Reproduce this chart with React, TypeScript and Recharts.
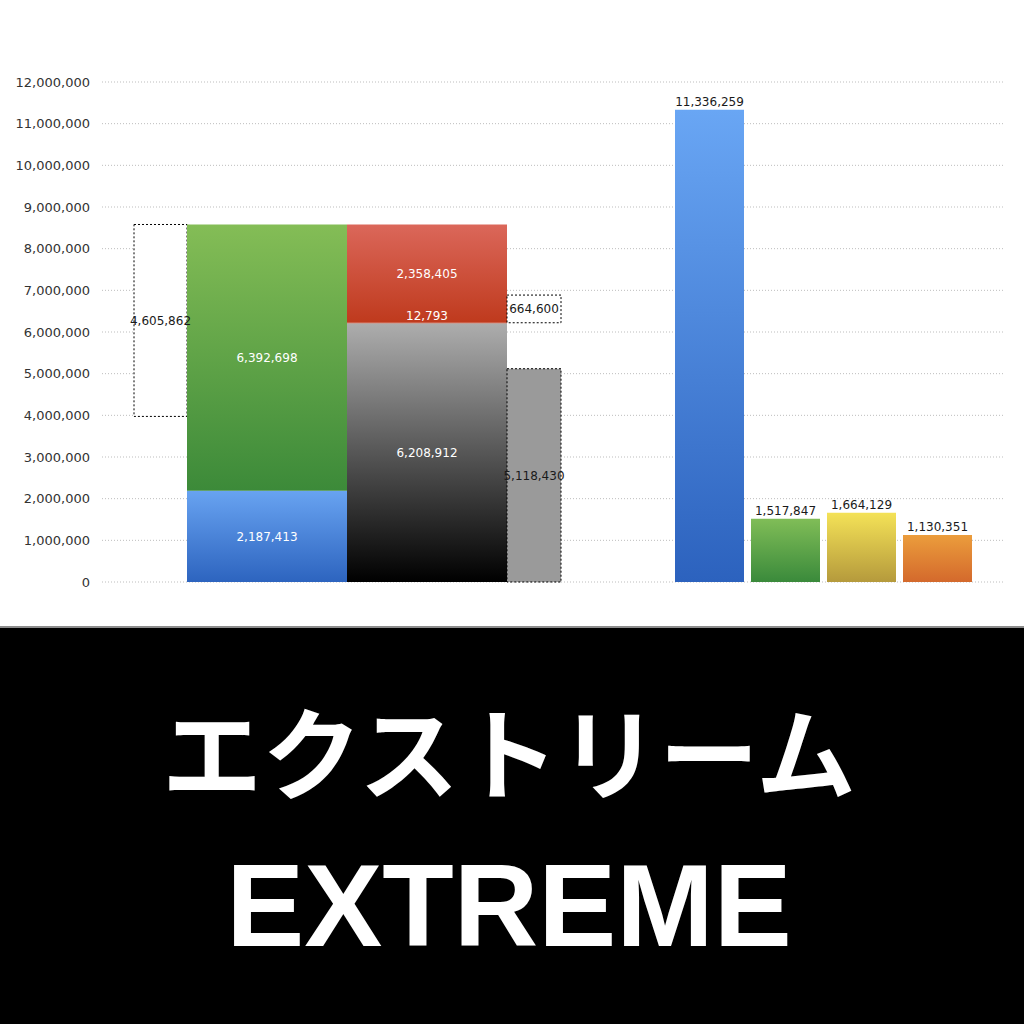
import React from 'react';
import { ComposedChart, Bar, XAxis, YAxis, CartesianGrid, LabelList, Cell } from 'recharts';

// ---- data ----
const yTicks = [0, 1000000, 2000000, 3000000, 4000000, 5000000, 6000000, 7000000, 8000000, 9000000, 10000000, 11000000, 12000000];

// left stacked column: blue (bottom), green (top)
const stackA = [2187413, 6392698];
// middle stacked column: black (bottom), thin slice, red (top)
const stackB = [6208912, 12793, 2358405];
// dashed floating box to the left of the first column (ends at the column top)
const sideLeftBox = 4605862;
// grey dashed bar and small dashed box to the right of the second column
const sideRightBar = 5118430;
const sideRightBox = 664600;

// right-hand group
const rightCategories = ['r1', 'r2', 'r3', 'r4'];
const rightValues = [11336259, 1517847, 1664129, 1130351];
const rightGradients = ['gRBlue', 'gRGreen', 'gRYellow', 'gROrange'];

const titleJa = 'エクストリーム';
const titleEn = 'EXTREME';

// ---- table built for the library ----
const leftTop = stackA[0] + stackA[1];
const thinTop = stackB[0] + stackB[1];
const data = rightCategories.map((name, i) => ({
  name,
  grp: 'L',
  right: rightValues[i],
  box1Gap: i === 0 ? leftTop - sideLeftBox : 0,
  box1: i === 0 ? sideLeftBox : 0,
  blue: i === 0 ? stackA[0] : 0,
  green: i === 0 ? stackA[1] : 0,
  black: i === 0 ? stackB[0] : 0,
  thin: i === 0 ? stackB[1] : 0,
  red: i === 0 ? stackB[2] : 0,
  gray: i === 0 ? sideRightBar : 0,
  box2Gap: i === 0 ? thinTop - sideRightBar : 0,
  box2: i === 0 ? sideRightBox : 0,
}));

const fmt = (v: any) => (typeof v === 'number' && v > 0 ? v.toLocaleString('en-US') : '');

const FONT = '"DejaVu Sans", sans-serif';
const whiteLabel = { fill: '#ffffff', fontSize: 12, fontFamily: FONT };
const darkLabel = { fill: '#1a1a1a', fontSize: 12, fontFamily: FONT };

const grad = (id: string, top: string, bottom: string) => (
  <linearGradient id={id} x1="0" y1="0" x2="0" y2="1">
    <stop offset="0%" stopColor={top} />
    <stop offset="100%" stopColor={bottom} />
  </linearGradient>
);

export default function App() {
  return (
    <div style={{ position: 'absolute', left: 0, top: 0, width: 1024, height: 1024, background: '#fff', overflow: 'hidden' }}>
      <ComposedChart
        width={1024}
        height={626}
        data={data}
        margin={{ top: 82, right: 19, bottom: 44, left: 0 }}
        barGap={0}
        style={{ fontFamily: FONT }}
      >
        <defs>
          {grad('gBlue', '#68a3f1', '#2d64bf')}
          {grad('gGreen', '#84bd56', '#3c8a39')}
          {grad('gRed', '#db675a', '#bf3a1d')}
          {grad('gBlack', '#adadad', '#000000')}
          {grad('gRBlue', '#69a6f4', '#2c62be')}
          {grad('gRGreen', '#80bd57', '#3a8a3b')}
          {grad('gRYellow', '#f4e257', '#b59a3c')}
          {grad('gROrange', '#eb9d3c', '#d4692c')}
        </defs>
        <CartesianGrid xAxisId="left" vertical={false} stroke="#bdbdbd" strokeDasharray="1 2" />
        <XAxis xAxisId="left" dataKey="grp" type="category" allowDuplicatedCategory={false} hide padding={{ left: 0, right: 412 }} />
        <XAxis xAxisId="right" dataKey="name" type="category" hide padding={{ left: 569, right: 30 }} />
        <YAxis
          domain={[0, 12000000]}
          ticks={yTicks}
          width={102}
          axisLine={false}
          tickLine={false}
          tickMargin={6}
          tickFormatter={(v: number) => v.toLocaleString('en-US')}
          tick={{ fill: '#333', fontSize: 13, fontFamily: FONT }}
        />

        {/* dashed box left of first column */}
        <Bar xAxisId="left" dataKey="box1Gap" stackId="s1" barSize={53} fill="transparent" isAnimationActive={false} />
        <Bar xAxisId="left" dataKey="box1" stackId="s1" barSize={53} fill="#ffffff" stroke="#000" strokeWidth={1} strokeDasharray="2 2" isAnimationActive={false}>
          <LabelList dataKey="box1" position="center" formatter={fmt} {...darkLabel} />
        </Bar>

        {/* first stacked column */}
        <Bar xAxisId="left" dataKey="blue" stackId="s2" barSize={160} fill="url(#gBlue)" isAnimationActive={false}>
          <LabelList dataKey="blue" position="center" formatter={fmt} {...whiteLabel} />
        </Bar>
        <Bar xAxisId="left" dataKey="green" stackId="s2" barSize={160} fill="url(#gGreen)" isAnimationActive={false}>
          <LabelList dataKey="green" position="center" formatter={fmt} {...whiteLabel} />
        </Bar>

        {/* second stacked column */}
        <Bar xAxisId="left" dataKey="black" stackId="s3" barSize={160} fill="url(#gBlack)" isAnimationActive={false}>
          <LabelList dataKey="black" position="center" formatter={fmt} {...whiteLabel} />
        </Bar>
        <Bar xAxisId="left" dataKey="thin" stackId="s3" barSize={160} fill="#c13c20" isAnimationActive={false}>
          <LabelList dataKey="thin" position="top" offset={3} formatter={fmt} {...whiteLabel} />
        </Bar>
        <Bar xAxisId="left" dataKey="red" stackId="s3" barSize={160} fill="url(#gRed)" isAnimationActive={false}>
          <LabelList dataKey="red" position="center" formatter={fmt} {...whiteLabel} />
        </Bar>

        {/* grey dashed bar and small dashed box */}
        <Bar xAxisId="left" dataKey="gray" stackId="s4" barSize={54} fill="#9a9a9a" stroke="#000" strokeWidth={1} strokeDasharray="2 2" isAnimationActive={false}>
          <LabelList dataKey="gray" position="center" formatter={fmt} {...darkLabel} />
        </Bar>
        <Bar xAxisId="left" dataKey="box2Gap" stackId="s4" barSize={54} fill="transparent" isAnimationActive={false} />
        <Bar xAxisId="left" dataKey="box2" stackId="s4" barSize={54} fill="#ffffff" stroke="#000" strokeWidth={1} strokeDasharray="2 2" isAnimationActive={false}>
          <LabelList dataKey="box2" position="center" formatter={fmt} {...darkLabel} />
        </Bar>

        {/* right group */}
        <Bar xAxisId="right" dataKey="right" barSize={69} isAnimationActive={false}>
          {rightValues.map((_, i) => (
            <Cell key={i} fill={`url(#${rightGradients[i]})`} />
          ))}
          <LabelList dataKey="right" position="top" offset={4} formatter={fmt} {...darkLabel} />
        </Bar>
      </ComposedChart>

      <div style={{ position: 'absolute', left: 0, top: 626, width: 1024, height: 398, background: '#000', borderTop: '2px solid #8c8c8c', boxSizing: 'border-box' }}>
        <svg width={1024} height={398} style={{ position: 'absolute', left: 0, top: -2 }}>
          <text x={509} y={792 - 626} textAnchor="middle" fill="#fff" fontSize={100} fontWeight={700} fontFamily='"Noto Sans CJK JP", sans-serif'>
            {titleJa}
          </text>
          <text x={509} y={946 - 626} textAnchor="middle" fill="#fff" fontSize={117} fontWeight={700} fontFamily='"Liberation Sans", Arial, sans-serif'>
            {titleEn}
          </text>
        </svg>
      </div>
    </div>
  );
}
